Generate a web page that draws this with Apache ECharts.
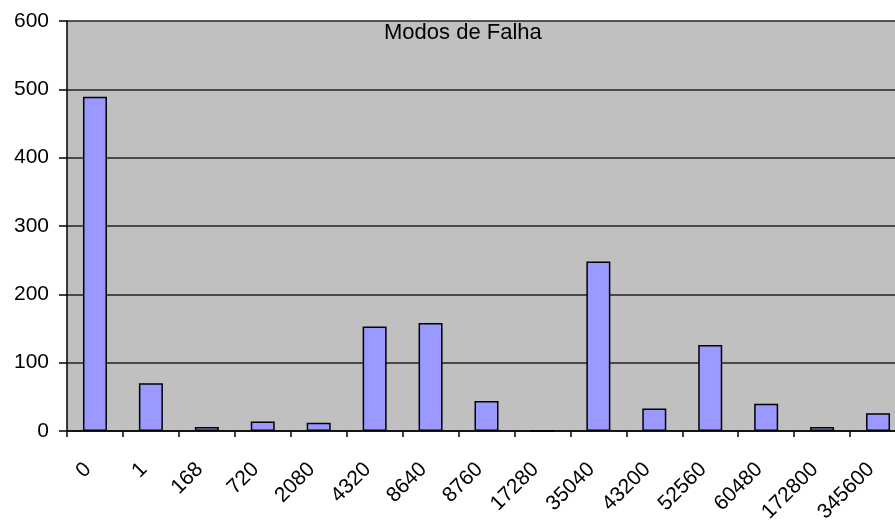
<!DOCTYPE html>
<html>
<head>
<meta charset="utf-8">
<script src="https://cdn.jsdelivr.net/npm/echarts@6/dist/echarts.min.js"></script>
<style>
    html, body { margin: 0; padding: 0; background: #fff; }
    #chart { width: 895px; height: 521px; }
</style>
</head>
<body>
<div id="chart"></div>
<script>
// categorias (horas) e contagem de modos de falha
let categorias = ['0', '1', '168', '720', '2080', '4320', '8640', '8760', '17280',
    '35040', '43200', '52560', '60480', '172800', '345600'];
let falhas = [489, 70, 6, 14, 12, 153, 158, 44, 0, 248, 33, 126, 40, 6, 26];
let yTicks = [0, 100, 200, 300, 400, 500, 600];

let myChart = echarts.init(document.getElementById('chart'));

let option = {
    animation: false,
    textStyle: { fontFamily: 'Liberation Sans, Arial, sans-serif' },
    title: {
        text: 'Modos de Falha',
        left: 379,
        top: 17,
        textStyle: { fontSize: 22, fontWeight: 'normal', color: '#000' }
    },
    grid: {
        left: 67,
        right: -11,
        top: 21,
        bottom: 90,
        outerBoundsMode: 'none',
        show: true,
        backgroundColor: '#c0c0c0',
        borderWidth: 0
    },
    xAxis: {
        type: 'category',
        data: categorias,
        axisLine: { lineStyle: { color: '#000', width: 1.5 } },
        axisTick: { show: true, length: 6, lineStyle: { color: '#000', width: 1.5 } },
        axisLabel: {
            rotate: 45,
            margin: 28,
            padding: [0, 10, 0, 0],
            fontSize: 21,
            color: '#000'
        }
    },
    yAxis: {
        type: 'value',
        min: yTicks[0],
        max: yTicks[yTicks.length - 1],
        interval: 100,
        axisLine: { show: true, lineStyle: { color: '#000', width: 1.5 } },
        axisTick: { show: true, length: 8, lineStyle: { color: '#000', width: 1.5 } },
        axisLabel: { fontSize: 21, color: '#000', margin: 18 },
        splitLine: { lineStyle: { color: '#222', width: 1.5 } }
    },
    series: [
        {
            name: 'Modos de Falha',
            type: 'bar',
            data: falhas,
            barWidth: 24,
            itemStyle: {
                color: '#9999ff',
                borderColor: '#000',
                borderWidth: 1.5
            }
        }
    ]
};

myChart.setOption(option);
</script>
</body>
</html>
